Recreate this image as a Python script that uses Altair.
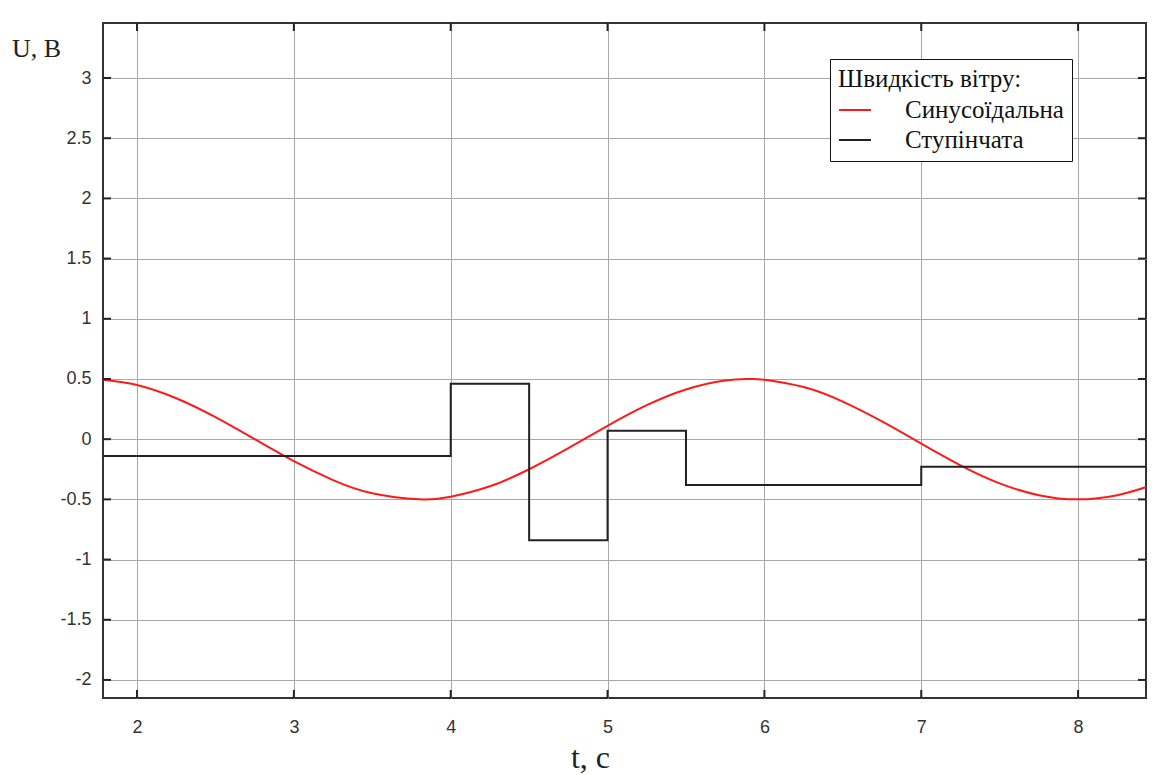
import altair as alt
import pandas as pd

# Sinusoidal wind-speed response
t_sin = [1.78, 2.0, 2.25, 2.5, 2.75, 3.0, 3.25, 3.5, 3.8, 4.0, 4.25, 4.5, 4.75,
         5.0, 5.25, 5.5, 5.75, 5.9, 6.0, 6.25, 6.5, 6.75, 7.0, 7.25, 7.5, 7.75, 8.0,
         8.25, 8.45]
u_sin = [0.494, 0.450, 0.340, 0.183, 0.0, -0.183, -0.340, -0.450, -0.5, -0.478,
         -0.391, -0.25, -0.075, 0.111, 0.282, 0.413, 0.487, 0.5, 0.494, 0.433, 0.312,
         0.147, -0.037, -0.217, -0.367, -0.465, -0.5, -0.465, -0.391]

# Step wind-speed response
t_step = [1.78, 4.0, 4.5, 5.0, 5.5, 7.0, 8.45]
u_step = [-0.14, 0.46, -0.84, 0.07, -0.38, -0.23, -0.23]

series_names = ["Синусоїдальна", "Ступінчата"]
series_colors = ["#ff1a1a", "#222222"]

x_ticks = [2, 3, 4, 5, 6, 7, 8]
y_ticks = [-2, -1.5, -1, -0.5, 0, 0.5, 1, 1.5, 2, 2.5, 3]

x_domain = [1.783, 8.433]
y_domain = [-2.15, 3.457]

W, H = 1043, 675
SERIF = "Liberation Serif"

df = pd.concat([
    pd.DataFrame({"t": t_sin, "u": u_sin, "s": series_names[0]}),
    pd.DataFrame({"t": t_step, "u": u_step, "s": series_names[1]}),
])

xs = alt.Scale(domain=x_domain, nice=False, zero=False)
ys = alt.Scale(domain=y_domain, nice=False, zero=False)

x_axis = alt.Axis(values=x_ticks, title="t, c", grid=True, ticks=False, domain=False,
                  labelPadding=20, labelExpr="'' + datum.value",
                  titleX=487, titleY=59, titleAlign="center",
                  titleBaseline="middle", titleFont=SERIF,
                  titleFontSize=32, titleFontWeight="normal", titleColor="#222222")
y_axis = alt.Axis(values=y_ticks, title="U, B", grid=True, ticks=False, domain=False,
                  labelPadding=12, labelExpr="'' + datum.value", titleAngle=0,
                  titleX=-67, titleY=25, titleAlign="center", titleBaseline="middle",
                  titleFont=SERIF, titleFontSize=26,
                  titleFontWeight="normal", titleColor="#222222")

legend = alt.Legend(
    title="Швидкість вітру:", orient="none", legendX=727, legendY=36, padding=8,
    fillColor="white", strokeColor="#111111",
    symbolType="stroke", symbolSize=1024, symbolStrokeWidth=2,
    labelFont=SERIF, labelFontSize=25, labelColor="#111111",
    labelOffset=33, labelLimit=400, titleLimit=400,
    titleFont=SERIF, titleFontSize=25, titleFontWeight="normal",
    titleColor="#111111", titlePadding=1, rowPadding=0,
)

color = alt.Color("s:N", scale=alt.Scale(domain=series_names, range=series_colors),
                  legend=legend)

sin_line = alt.Chart(df[df.s == series_names[0]]).mark_line(
    strokeWidth=2, clip=True, interpolate="natural"
).encode(
    x=alt.X("t:Q", scale=xs, axis=x_axis),
    y=alt.Y("u:Q", scale=ys, axis=y_axis),
    color=color,
)

step_line = alt.Chart(df[df.s == series_names[1]]).mark_line(
    strokeWidth=2, clip=True, interpolate="step-after"
).encode(
    x=alt.X("t:Q", scale=xs),
    y=alt.Y("u:Q", scale=ys),
    color=color,
)

xt = pd.DataFrame({"t": x_ticks})
yt = pd.DataFrame({"u": y_ticks})
tick_color = "#222222"

x_ticks_bottom = alt.Chart(xt).mark_rule(color=tick_color, strokeWidth=2).encode(
    x=alt.X("t:Q", scale=xs), y=alt.value(H), y2=alt.value(H - 8))
x_ticks_top = alt.Chart(xt).mark_rule(color=tick_color, strokeWidth=2).encode(
    x=alt.X("t:Q", scale=xs), y=alt.value(0), y2=alt.value(8))
y_ticks_left = alt.Chart(yt).mark_rule(color=tick_color, strokeWidth=2).encode(
    y=alt.Y("u:Q", scale=ys), x=alt.value(0), x2=alt.value(8))
y_ticks_right = alt.Chart(yt).mark_rule(color=tick_color, strokeWidth=2).encode(
    y=alt.Y("u:Q", scale=ys), x=alt.value(W), x2=alt.value(W - 8))

chart = alt.layer(
    sin_line, step_line, x_ticks_bottom, x_ticks_top, y_ticks_left, y_ticks_right
).properties(
    width=W, height=H,
    autosize=alt.AutoSizeParams(type="none"),
    padding={"left": 103, "top": 23, "right": 15, "bottom": 77},
    background="white",
).configure_view(
    stroke="#333333", strokeWidth=2
).configure_axis(
    gridColor="#a8a8a8", gridWidth=1, labelFont="Liberation Sans",
    labelFontSize=18, labelColor="#333333",
).configure_legend(
    labelFont=SERIF, titleFont=SERIF,
)

chart.save("out.html", embed_options={"renderer": "svg", "actions": False})
